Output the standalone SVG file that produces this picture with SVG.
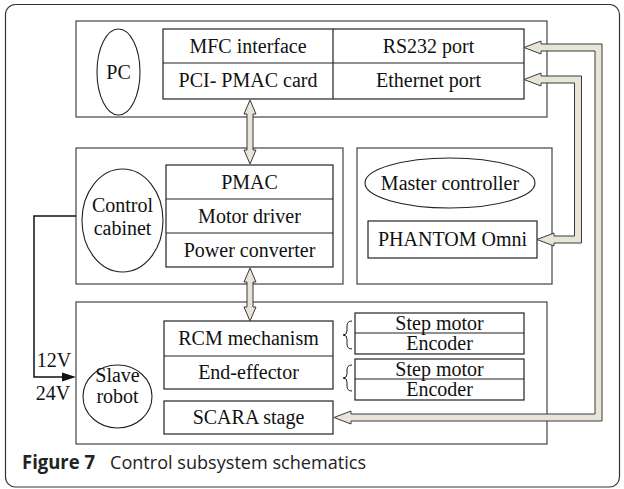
<svg xmlns="http://www.w3.org/2000/svg" width="624" height="489" viewBox="0 0 624 489">
<style>
.frame{fill:#fff;stroke:#333;stroke-width:1.2}
.box{fill:#fff;stroke:#444;stroke-width:1.2}
.cell{fill:#fff;stroke:#222;stroke-width:1.2}
.ell{fill:#fff;stroke:#222;stroke-width:1.1}
.t{font-family:'Liberation Serif','DejaVu Serif','Times New Roman',serif;font-size:20px;fill:#111;text-anchor:middle}
.arr{fill:#e9e4d8;stroke:#3a3a3a;stroke-width:1}
.cap{font-family:'Open Sans','Liberation Sans',Arial,sans-serif;font-size:19px;fill:#222}
</style>
<rect class="frame" x="5.5" y="4.5" width="614" height="482.5" rx="10"/>

<g id="pc">
<rect class="box" x="76" y="21" width="471" height="96"/>
<ellipse class="ell" cx="118.5" cy="72" rx="21.5" ry="43"/>
<text class="t" x="118.5" y="79">PC</text>
<rect class="cell" x="163" y="29" width="361" height="70"/>
<line class="cell" x1="163" y1="63" x2="524" y2="63"/>
<line class="cell" x1="333" y1="29" x2="333" y2="99"/>
<text class="t" x="248" y="53">MFC interface</text>
<text class="t" x="248" y="87">PCI- PMAC card</text>
<text class="t" x="428.5" y="53">RS232 port</text>
<text class="t" x="428.5" y="87">Ethernet port</text>
</g>

<g id="control">
<rect class="box" x="76" y="148" width="267" height="136"/>
<ellipse class="ell" cx="122.5" cy="220.5" rx="40.5" ry="51.5"/>
<text class="t" x="122.5" y="212">Control</text>
<text class="t" x="122.5" y="235">cabinet</text>
<rect class="cell" x="166" y="165" width="167" height="102"/>
<line class="cell" x1="166" y1="199" x2="333" y2="199"/>
<line class="cell" x1="166" y1="233" x2="333" y2="233"/>
<text class="t" x="249.5" y="189">PMAC</text>
<text class="t" x="249.5" y="223">Motor driver</text>
<text class="t" x="249.5" y="257">Power converter</text>
</g>

<g id="master">
<rect class="box" x="357" y="148" width="195" height="136"/>
<ellipse class="ell" cx="450" cy="183" rx="85" ry="25"/>
<text class="t" x="450" y="190">Master controller</text>
<rect class="cell" x="368" y="221" width="169" height="37"/>
<text class="t" x="452.5" y="246">PHANTOM Omni</text>
</g>

<g id="slave">
<rect class="box" x="76" y="302" width="471" height="142"/>
<ellipse class="ell" cx="117.5" cy="396.5" rx="34.5" ry="31.5"/>
<text class="t" x="117.5" y="382">Slave</text>
<text class="t" x="117.5" y="403">robot</text>
<rect class="cell" x="164" y="321" width="169" height="68"/>
<line class="cell" x1="164" y1="356" x2="333" y2="356"/>
<text class="t" x="248.5" y="345">RCM mechanism</text>
<text class="t" x="248.5" y="379">End-effector</text>
<rect class="cell" x="164" y="401" width="169" height="33"/>
<text class="t" x="248.5" y="424">SCARA stage</text>
<rect class="cell" x="355" y="313" width="169" height="41"/>
<line class="cell" x1="355" y1="333" x2="524" y2="333"/>
<text class="t" x="439.5" y="330">Step motor</text>
<text class="t" x="439.5" y="350">Encoder</text>
<rect class="cell" x="355" y="359" width="169" height="41"/>
<line class="cell" x1="355" y1="379" x2="524" y2="379"/>
<text class="t" x="439.5" y="376">Step motor</text>
<text class="t" x="439.5" y="396">Encoder</text>
<path d="M352 321 Q347 321 347 326 L347 331 Q347 335 343 335 Q347 335 347 339 L347 344 Q347 349 352 349" fill="none" stroke="#222" stroke-width="1"/>
<path d="M352 365 Q347 365 347 370 L347 374 Q347 378 343 378 Q347 378 347 382 L347 386 Q347 391 352 391" fill="none" stroke="#222" stroke-width="1"/>
</g>

<g id="connectors">
<polygon class="arr" points="250,100 256,114 253,114 253,150 256,150 250,164 244,150 247,150 247,114 244,114"/>
<polygon class="arr" points="250,268 256,282 253,282 253,307 256,307 250,321 244,307 247,307 247,282 244,282"/>
<polygon class="arr" points="524,47.5 541,41 541,44 602,44 602,421 351,421 351,424 334,417.5 351,411 351,414 595,414 595,51 541,51 541,54"/>
<polygon class="arr" points="524,79.5 541,73 541,76 581.5,76 581.5,243 554,243 554,246 537,239.5 554,233 554,236 574.5,236 574.5,83 541,83 541,86"/>
<polyline points="76,216 34,216 34,377 64,377" fill="none" stroke="#111" stroke-width="1.5"/>
<polygon points="62,372.5 76,377 62,381.5" fill="#111"/>
<text class="t" x="54" y="367">12V</text>
<text class="t" x="53" y="400">24V</text>
</g>

<text class="cap" x="22" y="469" font-weight="bold" textLength="73" lengthAdjust="spacingAndGlyphs">Figure 7</text>
<text class="cap" x="110" y="469" textLength="256" lengthAdjust="spacingAndGlyphs">Control subsystem schematics</text>
</svg>
